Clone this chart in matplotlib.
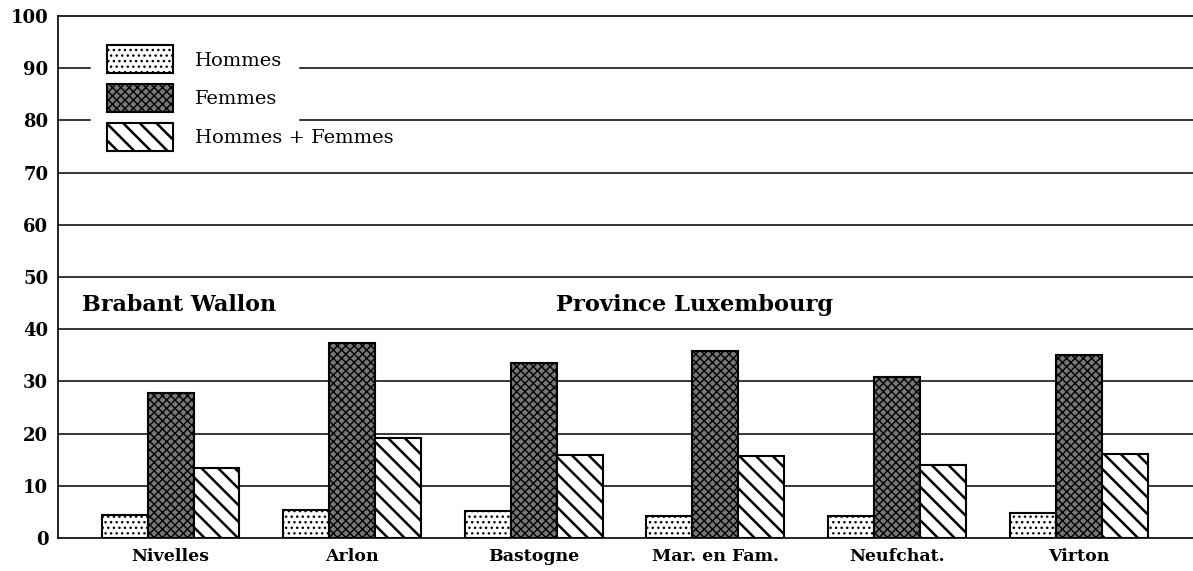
import matplotlib
matplotlib.use("Agg")
import matplotlib.pyplot as plt
import numpy as np

# arrondissements
communes = ['Nivelles', 'Arlon', 'Bastogne', 'Mar. en Fam.', 'Neufchat.', 'Virton']
hommes = [4.4, 5.4, 5.1, 4.1, 4.2, 4.7]
femmes = [27.8, 37.3, 33.6, 35.9, 30.9, 35.0]
hommes_femmes = [13.4, 19.2, 15.9, 15.6, 14.0, 16.1]
yticks = [0, 10, 20, 30, 40, 50, 60, 70, 80, 90, 100]

plt.rcParams["font.family"] = "DejaVu Serif"
plt.rcParams["hatch.linewidth"] = 1.0

fig = plt.figure(figsize=(11.93, 5.71), dpi=100)
ax = fig.add_axes([0.0486, 0.058, 0.9514, 0.914])

x = np.arange(len(communes))
w = 0.253

b1 = ax.bar(x - w, hommes, width=w, color='white', edgecolor='black',
            linewidth=1.5, hatch='...', zorder=3, label='Hommes')
b2 = ax.bar(x, femmes, width=w, color='#777777', edgecolor='black',
            linewidth=1.5, hatch='xxxx', zorder=3, label='Femmes')
b3 = ax.bar(x + w, hommes_femmes, width=w, color='white', edgecolor='black',
            linewidth=1.5, hatch='\\\\', zorder=3, label='Hommes + Femmes')
for p in b3:
    if hasattr(p, 'set_hatch_linewidth'):
        p.set_hatch_linewidth(1.8)

# lignes horizontales (coupees par la legende en haut)
for yv in yticks[1:-1]:
    if yv >= 80:
        ax.axhline(yv, xmin=0, xmax=0.028, color='black', lw=1.1, zorder=1)
        ax.axhline(yv, xmin=0.213, xmax=1, color='black', lw=1.1, zorder=1)
    else:
        ax.axhline(yv, color='black', lw=1.1, zorder=1)

ax.set_xlim(-0.62, 5.63)
ax.set_ylim(0, 100)
ax.set_yticks(yticks)
ax.set_yticklabels([str(v) for v in yticks], fontsize=13, fontweight='bold')
ax.set_xticks(x)
ax.set_xticklabels(communes, fontsize=12.5, fontweight='bold')
ax.tick_params(axis='y', length=0, pad=7)
ax.tick_params(axis='x', length=0, pad=7)
ax.spines['right'].set_visible(False)
for s in ['left', 'bottom', 'top']:
    ax.spines[s].set_linewidth(1.2)

ax.text(0.044, 44.6, 'Brabant Wallon', fontsize=16, fontweight='bold',
        ha='center', va='center')
ax.text(2.886, 44.6, 'Province Luxembourg', fontsize=16.3, fontweight='bold',
        ha='center', va='center')

leg = ax.legend(loc='upper left', bbox_to_anchor=(0.043, 0.944), frameon=False,
                fontsize=14, handlelength=3.4, handleheight=1.85,
                labelspacing=0.55, handletextpad=1.15, borderpad=0,
                borderaxespad=0)
for h in leg.legend_handles:
    if hasattr(h, 'set_hatch_linewidth') and h.get_hatch() == '\\\\':
        h.set_hatch_linewidth(1.8)

fig.savefig('out.png', dpi=100)
